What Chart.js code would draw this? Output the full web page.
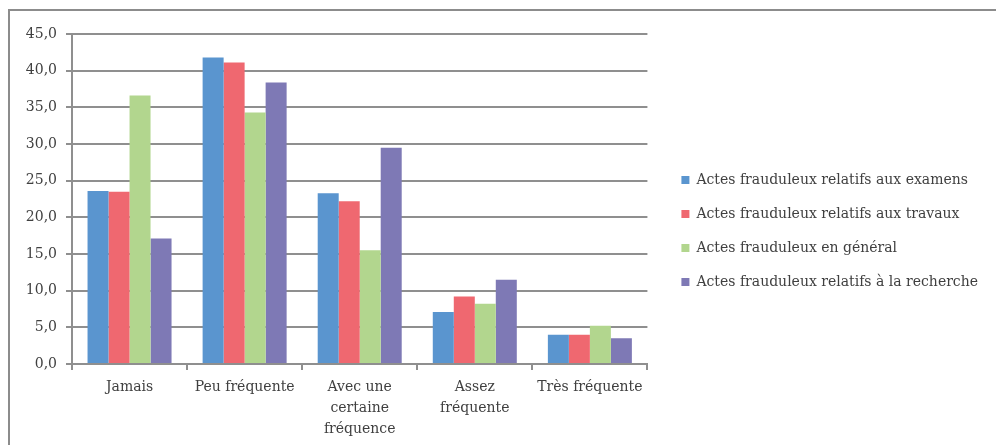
<!DOCTYPE html>
<html lang="fr">
<head>
<meta charset="utf-8">
<title>Actes frauduleux</title>
<script src="https://cdn.jsdelivr.net/npm/chart.js@4/dist/chart.umd.min.js"></script>
<style>
  html, body { margin: 0; padding: 0; background: #ffffff; }
  #wrap { position: relative; width: 996px; height: 445px; overflow: hidden; }
  #frame {
    position: absolute; left: 8px; top: 9px; width: 2000px; height: 2000px;
    border-left: 2px solid #8c8c8c; border-top: 2px solid #8c8c8c;
    pointer-events: none;
  }
  canvas { position: absolute; left: 0; top: 0; }
</style>
</head>
<body>
<div id="wrap">
  <canvas id="chart" width="996" height="445"></canvas>
  <div id="frame"></div>
</div>
<script>
// Frequency categories (x axis)
const categories = [
  'Jamais',
  'Peu fréquente',
  ['Avec une', 'certaine', 'fréquence'],
  ['Assez', 'fréquente'],
  'Très fréquente'
];

// Series names
const seriesNames = [
  'Actes frauduleux relatifs aux examens',
  'Actes frauduleux relatifs aux travaux',
  'Actes frauduleux en général',
  'Actes frauduleux relatifs à la recherche'
];

// Percentages per category
const examens   = [23.6, 41.8, 23.3, 7.1, 4.0];
const travaux   = [23.5, 41.1, 22.2, 9.2, 4.0];
const general   = [36.6, 34.3, 15.5, 8.2, 5.2];
const recherche = [17.1, 38.4, 29.5, 11.5, 3.5];

// Y axis ticks
const yTicks = [0, 5, 10, 15, 20, 25, 30, 35, 40, 45];

const colors = ['#5A95CF', '#EF6870', '#B2D68E', '#7E79B5'];
const gridColor = '#8f8f8f';
const textColor = '#404040';
const serif = "'DejaVu Serif', serif";

Chart.defaults.font.family = serif;
Chart.defaults.font.size = 14;
Chart.defaults.color = textColor;

const seriesValues = [examens, travaux, general, recherche];

// Let the right-hand legend take the width its labels need,
// and lift its vertical centre a little above the canvas middle.
const legendLayout = {
  id: 'legendLayout',
  beforeLayout(chart) {
    const lg = chart.legend;
    if (lg && !lg._wideFit) {
      const fit = lg.fit.bind(lg);
      lg.fit = function () {
        fit();
        const ctx = this.ctx;
        const lo = this.options.labels;
        ctx.save();
        ctx.font = Chart.helpers.toFont(lo.font).string;
        let w = 0;
        (this.legendItems || []).forEach(it => { w = Math.max(w, ctx.measureText(it.text).width); });
        ctx.restore();
        this.width = lo.padding + lo.boxWidth + 7 + w + 2;
      };
      lg._wideFit = true;
    }
  },
  afterLayout(chart) {
    if (chart.legend) chart.legend.top = 17;
  }
};

new Chart(document.getElementById('chart'), {
  type: 'bar',
  data: {
    labels: categories,
    datasets: seriesValues.map((vals, i) => ({
      label: seriesNames[i],
      data: vals,
      backgroundColor: colors[i],
      borderWidth: 0,
      categoryPercentage: 0.73,
      barPercentage: 1.0
    }))
  },
  plugins: [legendLayout],
  options: {
    responsive: false,
    animation: false,
    devicePixelRatio: 1,
    layout: { padding: { top: 34, bottom: 0, left: 0, right: 16 } },
    plugins: {
      tooltip: { enabled: false },
      legend: {
        position: 'right',
        align: 'center',
        labels: {
          boxWidth: 8,
          boxHeight: 8,
          padding: 20,
          color: textColor,
          font: { family: serif, size: 14 }
        }
      }
    },
    scales: {
      x: {
        grid: {
          offset: true,
          drawOnChartArea: false,
          drawTicks: true,
          tickLength: 6,
          color: gridColor,
          lineWidth: 2
        },
        border: { display: true, color: gridColor, width: 2 },
        ticks: {
          color: textColor,
          font: { family: serif, size: 14, lineHeight: 1.5 },
          padding: 7,
          maxRotation: 0,
          autoSkip: false
        },
        afterFit(scale) { scale.height = 81; }
      },
      y: {
        min: 0,
        max: 45,
        afterBuildTicks(scale) { scale.ticks = yTicks.map(v => ({ value: v })); },
        grid: {
          color: gridColor,
          lineWidth: 2,
          drawTicks: true,
          tickLength: 6
        },
        border: { display: true, color: gridColor, width: 2 },
        ticks: {
          color: textColor,
          font: { family: serif, size: 14 },
          padding: 9,
          callback: v => v.toFixed(1).replace('.', ',')
        },
        afterFit(scale) { scale.width = 72; }
      },
      gap: {
        position: 'right',
        display: true,
        grid: { display: false, drawTicks: false },
        border: { display: false },
        ticks: { display: false },
        afterFit(scale) { scale.width = 14; }
      }
    }
  }
});
</script>
</body>
</html>
